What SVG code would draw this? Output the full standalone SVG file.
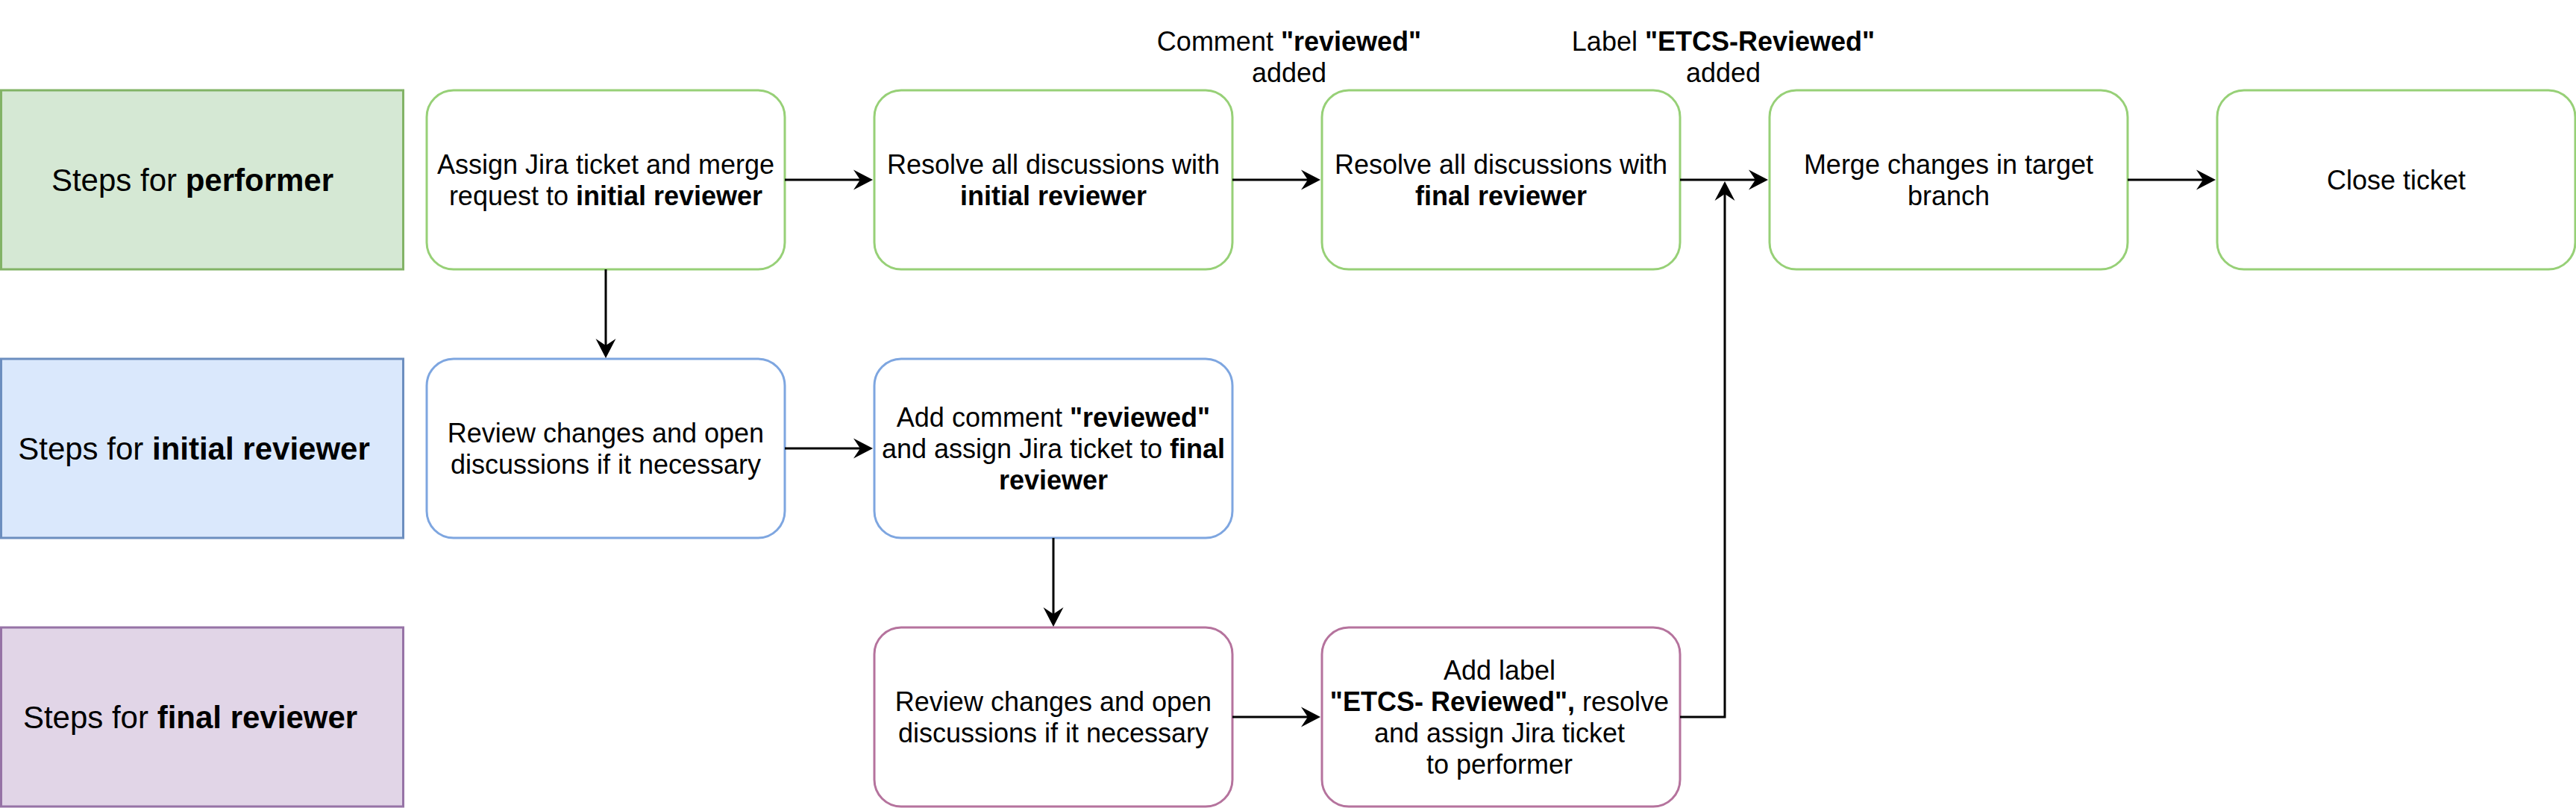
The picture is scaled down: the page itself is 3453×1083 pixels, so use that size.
<svg xmlns="http://www.w3.org/2000/svg" width="3453" height="1083" viewBox="0 0 3453 1083">
<style>
text{font-family:"Liberation Sans",Arial,Helvetica,sans-serif;fill:#000;text-anchor:middle}
.n{font-size:36px}
.l{font-size:42px}
.b{font-weight:bold}
.node{fill:#fff;stroke-width:3}
.g{stroke:#97d077}.bl{stroke:#7ea6e0}.p{stroke:#b5739d}
.lane{stroke-width:3}
.edge{fill:none;stroke:#000;stroke-width:3}
</style>
<defs>
<marker id="arr" markerUnits="userSpaceOnUse" markerWidth="27" markerHeight="28" viewBox="0 0 27 28" refX="9" refY="14" orient="auto">
<path d="M0,0.5 L26,14 L0,27.5 L9,14 Z" fill="#000"/>
</marker>
</defs>
<g id="lane-performer">
<rect class="lane" x="1.5" y="121" width="539" height="240" fill="#d5e8d4" stroke="#82b366"/>
<text class="l" x="258" y="256">Steps for <tspan class="b">performer</tspan></text>
</g>
<g id="lane-initial">
<rect class="lane" x="1.5" y="481" width="539" height="240" fill="#dae8fc" stroke="#6c8ebf"/>
<text class="l" x="260" y="616">Steps for <tspan class="b">initial reviewer</tspan></text>
</g>
<g id="lane-final">
<rect class="lane" x="1.5" y="841" width="539" height="240" fill="#e1d5e7" stroke="#9673a6"/>
<text class="l" x="255" y="976">Steps for <tspan class="b">final reviewer</tspan></text>
</g>
<g id="n-assign">
<rect class="node g" x="572" y="121" width="480" height="240" rx="36"/>
<text class="n" x="812" y="233">Assign Jira ticket and merge</text>
<text class="n" x="812" y="275">request to <tspan class="b">initial reviewer</tspan></text>
</g>
<g id="n-resolve-initial">
<rect class="node g" x="1172" y="121" width="480" height="240" rx="36"/>
<text class="n" x="1412" y="233">Resolve all discussions with</text>
<text class="n b" x="1412" y="275">initial reviewer</text>
</g>
<g id="n-resolve-final">
<rect class="node g" x="1772" y="121" width="480" height="240" rx="36"/>
<text class="n" x="2012" y="233">Resolve all discussions with</text>
<text class="n b" x="2012" y="275">final reviewer</text>
</g>
<g id="n-merge">
<rect class="node g" x="2372" y="121" width="480" height="240" rx="36"/>
<text class="n" x="2612" y="233">Merge changes in target</text>
<text class="n" x="2612" y="275">branch</text>
</g>
<g id="n-close">
<rect class="node g" x="2972" y="121" width="480" height="240" rx="36"/>
<text class="n" x="3212" y="254">Close ticket</text>
</g>
<g id="n-review-initial">
<rect class="node bl" x="572" y="481" width="480" height="240" rx="36"/>
<text class="n" x="812" y="593">Review changes and open</text>
<text class="n" x="812" y="635">discussions if it necessary</text>
</g>
<g id="n-add-comment">
<rect class="node bl" x="1172" y="481" width="480" height="240" rx="36"/>
<text class="n" x="1412" y="572">Add comment <tspan class="b">"reviewed"</tspan></text>
<text class="n" x="1412" y="614">and assign Jira ticket to <tspan class="b">final</tspan></text>
<text class="n b" x="1412" y="656">reviewer</text>
</g>
<g id="n-review-final">
<rect class="node p" x="1172" y="841" width="480" height="240" rx="36"/>
<text class="n" x="1412" y="953">Review changes and open</text>
<text class="n" x="1412" y="995">discussions if it necessary</text>
</g>
<g id="n-add-label">
<rect class="node p" x="1772" y="841" width="480" height="240" rx="36"/>
<text class="n" x="2010" y="911">Add label </text>
<text class="n" x="2010" y="953"><tspan class="b">"ETCS- Reviewed",</tspan> resolve</text>
<text class="n" x="2010" y="995">and assign Jira ticket</text>
<text class="n" x="2010" y="1037">to performer</text>
</g>
<g id="connectors">
<path class="edge" d="M1052,241 H1153" marker-end="url(#arr)"/>
<path class="edge" d="M1652,241 H1753" marker-end="url(#arr)"/>
<path class="edge" d="M2252,241 H2353" marker-end="url(#arr)"/>
<path class="edge" d="M2852,241 H2953" marker-end="url(#arr)"/>
<path class="edge" d="M812,361 V463" marker-end="url(#arr)"/>
<path class="edge" d="M1052,601 H1153" marker-end="url(#arr)"/>
<path class="edge" d="M1412,721 V823" marker-end="url(#arr)"/>
<path class="edge" d="M1652,961 H1753" marker-end="url(#arr)"/>
<path class="edge" d="M2252,961 H2312 V260" marker-end="url(#arr)"/>
<g id="edge-labels">
<text class="n" x="1728" y="68">Comment <tspan class="b">"reviewed"</tspan></text>
<text class="n" x="1728" y="110">added</text>
<text class="n" x="2310" y="68">Label <tspan class="b">"ETCS-Reviewed"</tspan></text>
<text class="n" x="2310" y="110">added</text>
</g>
</g>
</svg>
